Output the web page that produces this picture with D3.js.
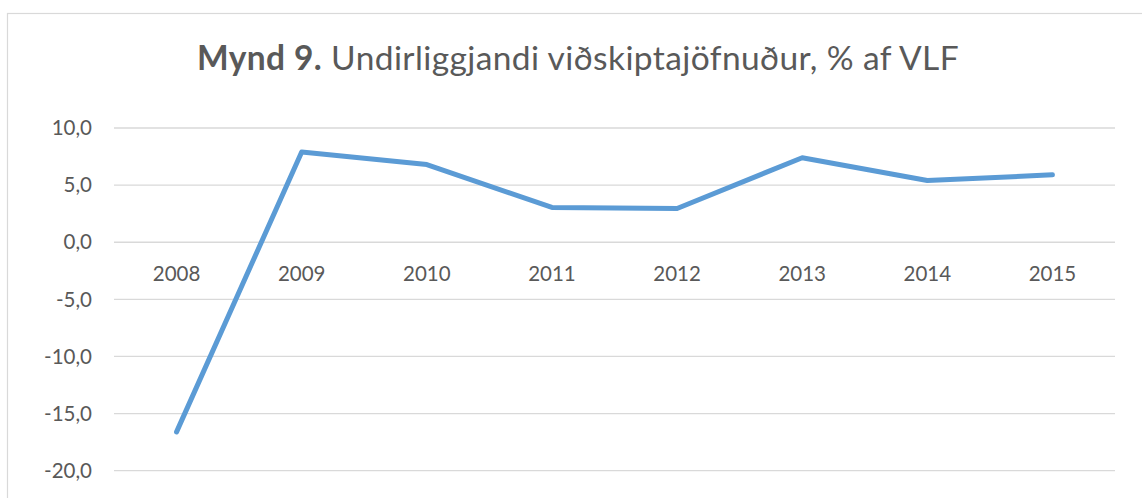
<!DOCTYPE html>
<html>
<head>
<meta charset="utf-8">
<script src="https://cdn.jsdelivr.net/npm/d3@7"></script>
<style>
  html, body { margin: 0; padding: 0; background: #fff; }
  svg { display: block; }
</style>
</head>
<body>
<svg id="chart" width="1142" height="498"></svg>
<script>
const years = ["2008", "2009", "2010", "2011", "2012", "2013", "2014", "2015"];
const values = [-16.6, 7.9, 6.8, 3.05, 2.95, 7.4, 5.4, 5.9];
const yTicks = [10, 5, 0, -5, -10, -15, -20];
const titleBold = "Mynd 9.";
const titleRest = " Undirliggjandi viðskiptajöfnuður, % af VLF";

const W = 1142, H = 498;
const svg = d3.select("#chart");
const FONT = "Lato, 'Open Sans', sans-serif";
const TEXT = "#595959";

// outer chart border
svg.append("rect")
  .attr("x", 7.5).attr("y", 13.5)
  .attr("width", W + 20).attr("height", H + 20)
  .attr("fill", "none").attr("stroke", "#d9d9d9").attr("stroke-width", 1.2);

const plot = { left: 114, right: 1115 };
const x = d3.scaleBand().domain(years).range([plot.left, plot.right]);
const y = d3.scaleLinear().domain([-20, 10]).range([470.7, 128]);

// gridlines
svg.append("g").selectAll("line").data(yTicks).join("line")
  .attr("x1", plot.left).attr("x2", plot.right)
  .attr("y1", d => y(d)).attr("y2", d => y(d))
  .attr("stroke", "#d9d9d9").attr("stroke-width", 1.3);

// y axis labels
const fmt = d => d3.format(".1f")(d).replace(".", ",").replace("−", "-");
svg.append("g").selectAll("text").data(yTicks).join("text")
  .attr("x", 92).attr("y", d => y(d))
  .attr("dy", "0.35em")
  .attr("text-anchor", "end")
  .attr("font-family", FONT).attr("font-size", 20.5)
  .attr("fill", TEXT)
  .text(fmt);

// x axis labels (positioned just below zero line)
svg.append("g").selectAll("text").data(years).join("text")
  .attr("x", d => x(d) + x.bandwidth() / 2)
  .attr("y", y(0) + 38.5)
  .attr("text-anchor", "middle")
  .attr("font-family", FONT).attr("font-size", 20.5)
  .attr("fill", TEXT)
  .text(d => d);

// line
const line = d3.line()
  .x((d, i) => x(years[i]) + x.bandwidth() / 2)
  .y(d => y(d));
svg.append("path")
  .datum(values)
  .attr("d", line)
  .attr("fill", "none")
  .attr("stroke", "#5b9bd5")
  .attr("stroke-width", 5)
  .attr("stroke-linejoin", "round")
  .attr("stroke-linecap", "round");

// title
const title = svg.append("text")
  .attr("x", 578).attr("y", 70)
  .attr("text-anchor", "middle")
  .attr("font-family", FONT).attr("font-size", 33.5)
  .attr("letter-spacing", 0.4)
  .attr("fill", TEXT);
title.append("tspan").attr("font-weight", "bold").text(titleBold);
title.append("tspan").text(titleRest);
</script>
</body>
</html>
